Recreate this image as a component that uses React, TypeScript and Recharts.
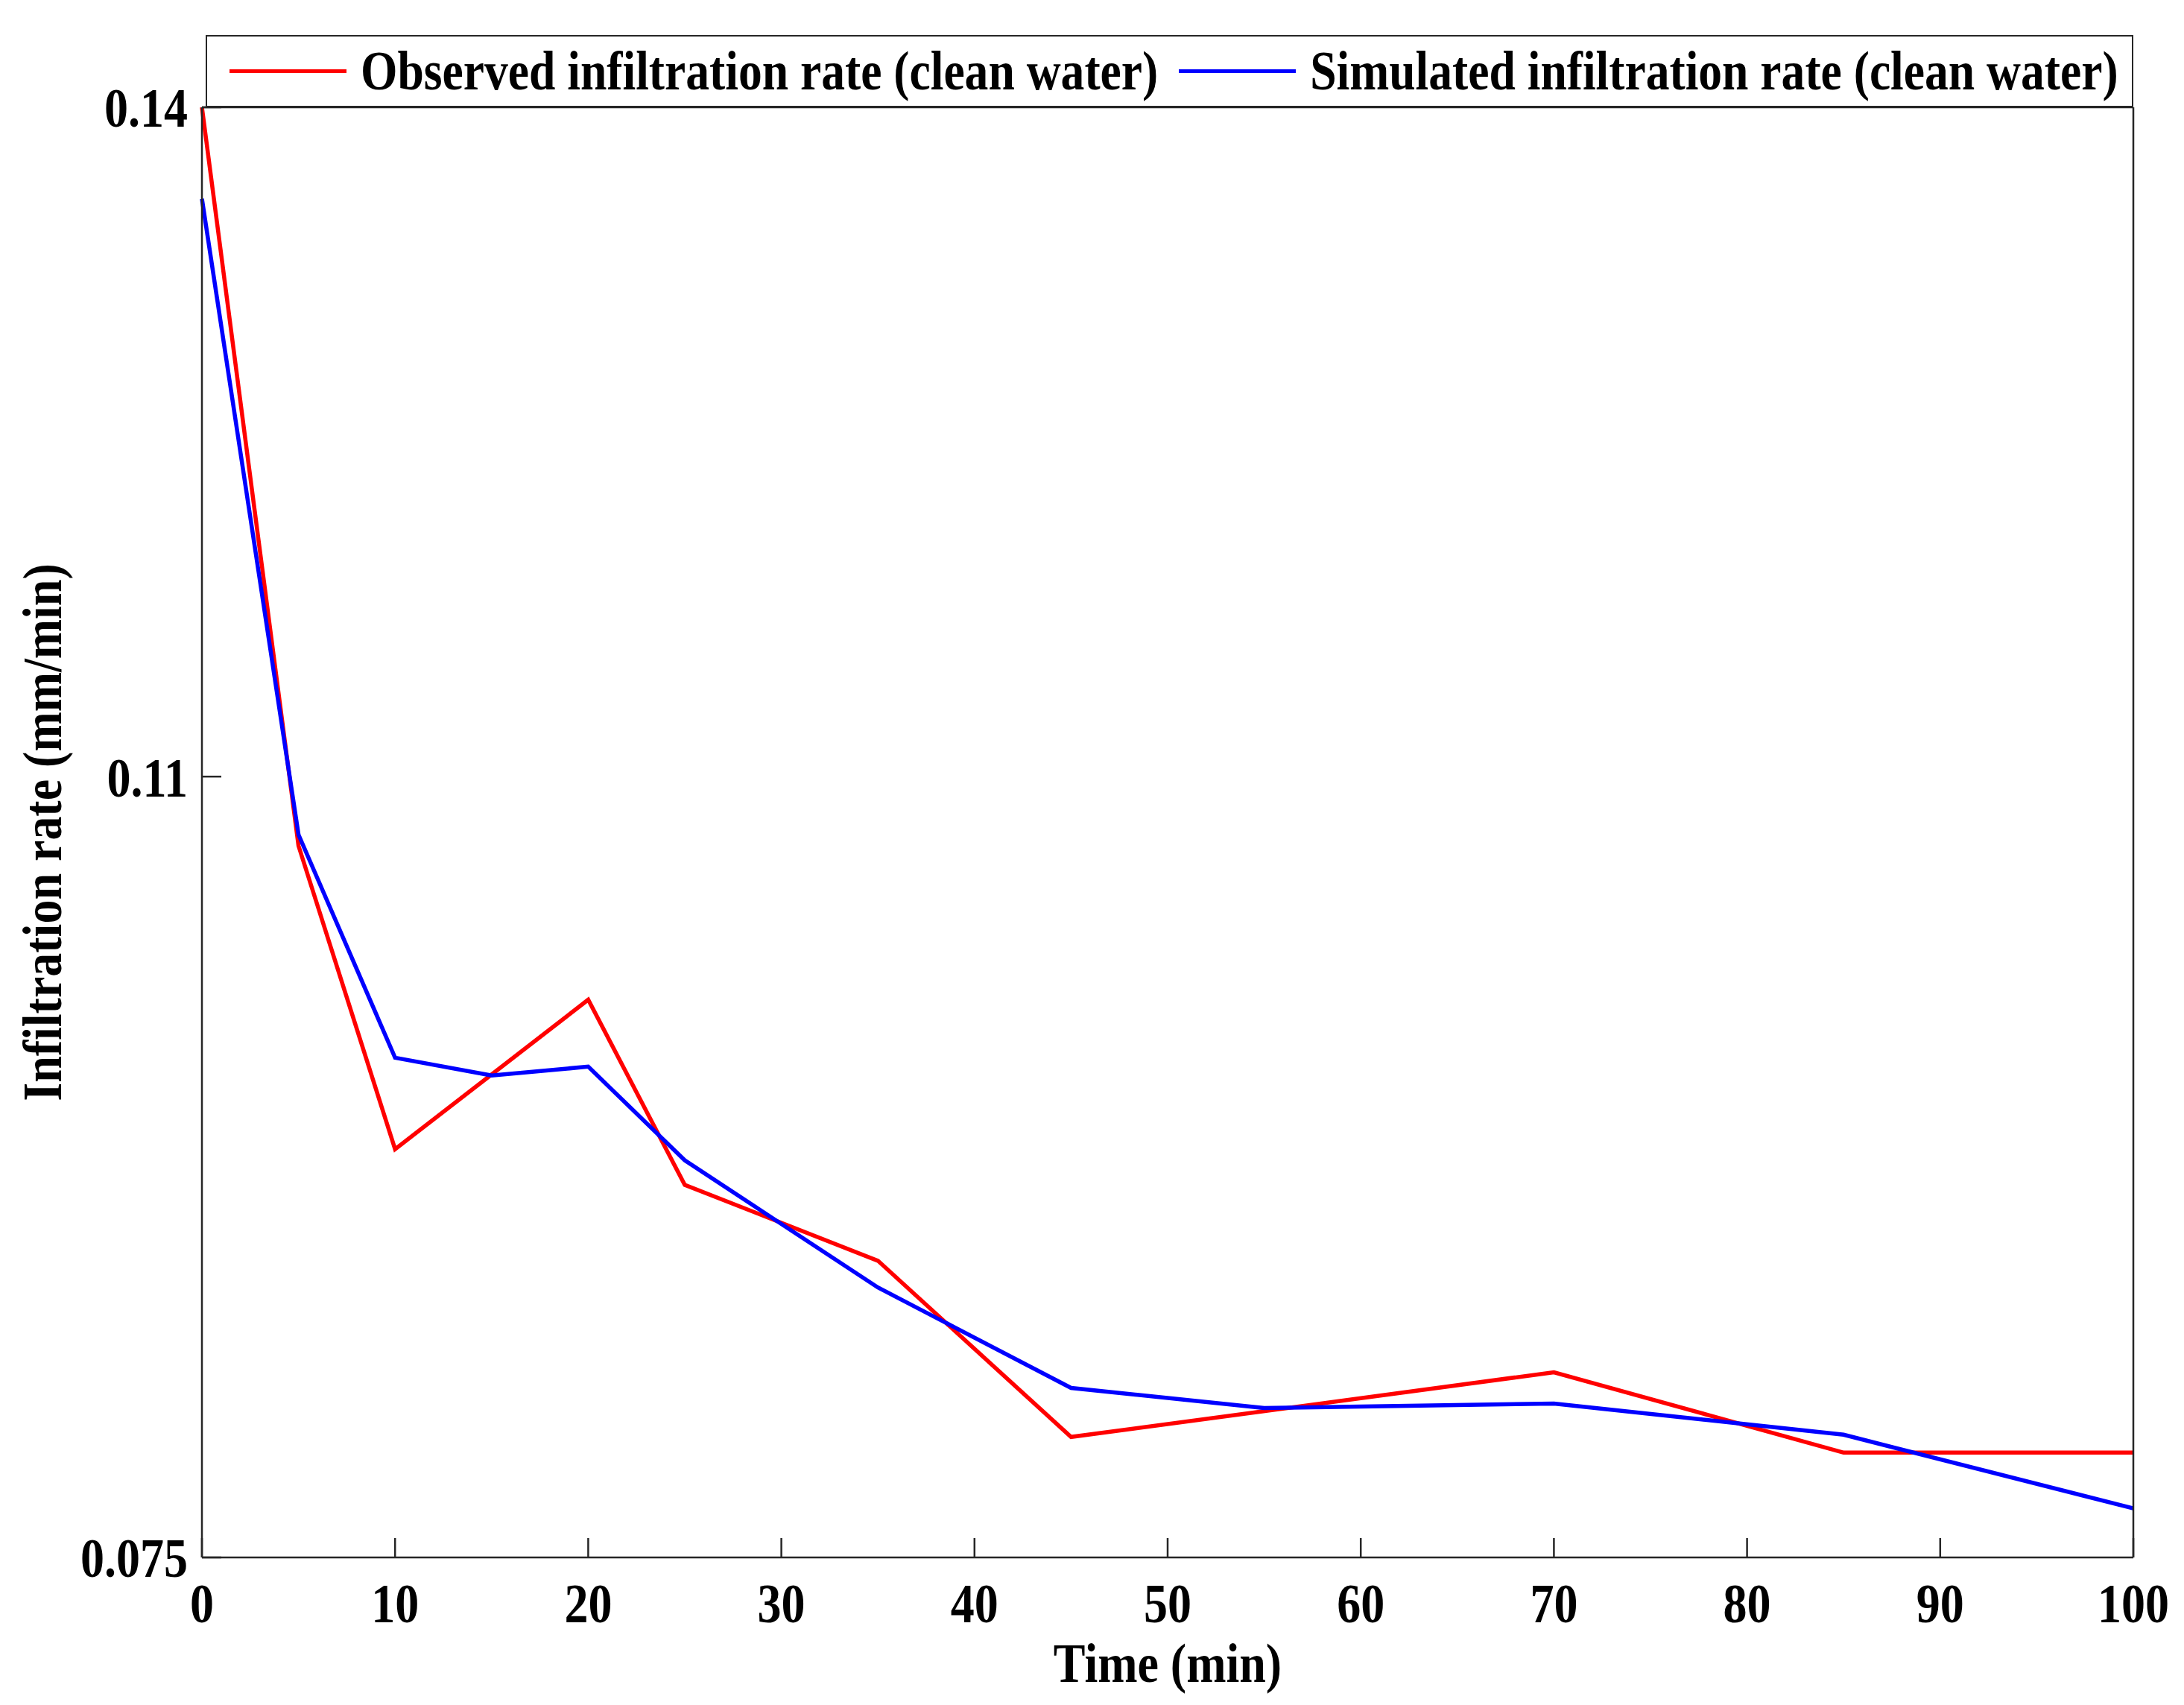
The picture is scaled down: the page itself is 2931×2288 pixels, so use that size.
import React from "react";
import { LineChart, Line, XAxis, YAxis, Legend, Label } from "recharts";

interface RatePoint {
  time: number;
  rate: number;
}

// values (time in min, rate in mm/min)
const observedTimes = [0, 5, 10, 20, 25, 35, 45, 70, 85, 100];
const observedRates = [0.14, 0.1069, 0.0933, 0.1, 0.0917, 0.0883, 0.0804, 0.0833, 0.0797, 0.0797];

const simulatedTimes = [0, 5, 10, 15, 20, 25, 35, 45, 55, 70, 85, 100];
const simulatedRates = [0.1359, 0.1074, 0.0974, 0.0966, 0.097, 0.0928, 0.0871, 0.0826, 0.0817, 0.0819, 0.0805, 0.0772];

const xTicks = [0, 10, 20, 30, 40, 50, 60, 70, 80, 90, 100];
const yTicks = [0.075, 0.11, 0.14];

const observed: RatePoint[] = observedTimes.map((time, i) => ({ time, rate: observedRates[i] }));
const simulated: RatePoint[] = simulatedTimes.map((time, i) => ({ time, rate: simulatedRates[i] }));

const FONT = "'Liberation Serif', 'Times New Roman', serif";
const AXIS = "#262626";
const STRETCH = 1.16; // the figure's text is a bit taller than plain Times
const textStyle = { fontFamily: FONT, fontWeight: 700, fontSize: 64, fill: "#000" };

// tick label drawn with a slight vertical stretch, like the source figure
const StretchedTick = (props: any) => {
  const { x, y, payload, textAnchor, orientation } = props;
  const dy = orientation === "bottom" ? "0.71em" : "0.355em";
  return (
    <g transform={`translate(${x},${y}) scale(1,${STRETCH})`}>
      <text x={0} y={0} dy={dy} textAnchor={textAnchor} {...textStyle}>
        {payload.value}
      </text>
    </g>
  );
};

const renderXLabel = (props: any) => {
  const { x, y, width, height } = props.viewBox;
  return (
    <g transform={`translate(${x + width / 2},${y + height + 14}) scale(1,${STRETCH})`}>
      <text x={0} y={0} dy="0.71em" textAnchor="middle" {...textStyle}>
        Time (min)
      </text>
    </g>
  );
};

const renderYLabel = (props: any) => {
  const { x, y, height } = props.viewBox;
  return (
    <g transform={`translate(${x + 56},${y + height / 2}) rotate(-90) scale(1,${STRETCH})`}>
      <text x={0} y={0} dy="0.355em" textAnchor="middle" {...textStyle}>
        Infiltration rate (mm/min)
      </text>
    </g>
  );
};

const renderLegend = (props: any) => {
  const { payload } = props;
  return (
    <div
      style={{
        boxSizing: "border-box",
        height: 97,
        border: `2.5px solid ${AXIS}`,
        background: "#fff",
        display: "flex",
        alignItems: "center",
        paddingLeft: 30,
        fontFamily: FONT,
        fontWeight: 700,
        fontSize: 63.6,
        color: "#000",
        whiteSpace: "nowrap",
      }}
    >
      {(payload || []).map((entry: any, i: number) => (
        <div key={i} style={{ display: "flex", alignItems: "center", marginRight: 28 }}>
          <div style={{ width: 157, height: 5.5, background: entry.color, marginRight: 19 }} />
          <span style={{ display: "inline-block", transform: `scaleY(${STRETCH})` }}>{entry.value}</span>
        </div>
      ))}
    </div>
  );
};

const App: React.FC = () => {
  return (
    <div style={{ position: "absolute", left: 0, top: 0, background: "#fff" }}>
      <LineChart width={2931} height={2288} margin={{ top: 0, right: 0, left: 0, bottom: 98 }}>
        <XAxis
          xAxisId="bottom"
          dataKey="time"
          type="number"
          domain={[0, 100]}
          ticks={xTicks}
          orientation="bottom"
          height={100}
          tickSize={-26}
          tickMargin={60}
          tick={<StretchedTick />}
          stroke={AXIS}
          strokeWidth={2.5}
        >
          <Label content={renderXLabel} />
        </XAxis>
        <XAxis
          xAxisId="top"
          dataKey="time"
          type="number"
          domain={[0, 100]}
          ticks={xTicks}
          orientation="top"
          height={144}
          tickSize={-26}
          tick={false}
          stroke={AXIS}
          strokeWidth={2.5}
        />
        <YAxis
          yAxisId="left"
          type="number"
          domain={[0.075, 0.14]}
          ticks={yTicks}
          orientation="left"
          width={271}
          tickSize={-26}
          tickMargin={45}
          tick={<StretchedTick />}
          stroke={AXIS}
          strokeWidth={2.5}
          allowDataOverflow
        >
          <Label content={renderYLabel} />
        </YAxis>
        <YAxis
          yAxisId="right"
          type="number"
          domain={[0.075, 0.14]}
          ticks={yTicks}
          orientation="right"
          width={68}
          tickSize={-26}
          tick={false}
          stroke={AXIS}
          strokeWidth={2.5}
          allowDataOverflow
        />
        <Legend
          content={renderLegend}
          layout="horizontal"
          verticalAlign="middle"
          align="center"
          wrapperStyle={{ position: "absolute", top: 47, left: 276, width: 2587 }}
        />
        <Line
          xAxisId="bottom"
          yAxisId="left"
          data={observed}
          dataKey="rate"
          name="Observed infiltration rate (clean water)"
          type="linear"
          stroke="#ff0000"
          strokeWidth={5.5}
          dot={false}
          activeDot={false}
          isAnimationActive={false}
        />
        <Line
          xAxisId="bottom"
          yAxisId="left"
          data={simulated}
          dataKey="rate"
          name="Simulated infiltration rate (clean water)"
          type="linear"
          stroke="#0000ff"
          strokeWidth={5.5}
          dot={false}
          activeDot={false}
          isAnimationActive={false}
        />
      </LineChart>
    </div>
  );
};

export default App;
